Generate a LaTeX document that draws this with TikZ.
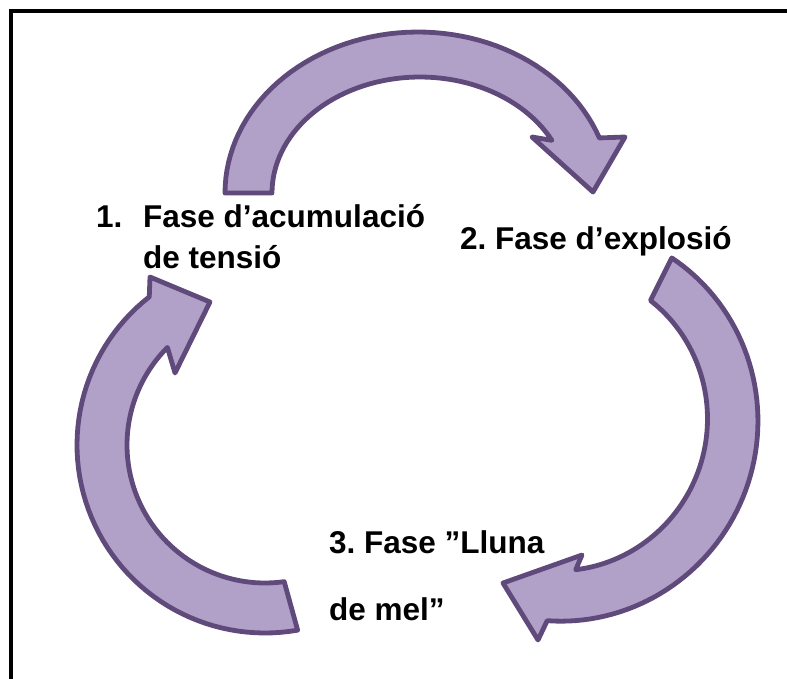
\documentclass[tikz,border=0pt]{standalone}
\usepackage{fontspec}
\setmainfont{Liberation Sans}
\frenchspacing
\definecolor{arrfill}{HTML}{B1A0C7}
\definecolor{arrline}{HTML}{604A7B}
\tikzset{
  cyclearrow/.style={fill=arrfill, draw=arrline, line width=4.8pt, line join=round},
  lbl/.style={anchor=base west, inner sep=0pt, font=\fontsize{31.5}{38}\selectfont\bfseries}
}
\begin{document}
\begin{tikzpicture}[x=1pt,y=-1pt]
\useasboundingbox (0,0) rectangle (787,678);
\clip (0,0) rectangle (787,678);
\fill[white] (0,0) rectangle (787,678);
% frame (only top and left edges visible)
\draw[line width=4.5pt] (11,700) -- (11,11) -- (800,11);

% arrow 1 (top)
\draw[cyclearrow]
  plot[domain=180:340, samples=60] ({418+193*cos(\x)}, {193+161*sin(\x)})
  -- (625,137) -- (593,192) -- (532,137)
  -- plot[domain=333:180, samples=60] ({420+148*cos(\x)}, {193+116*sin(\x)})
  -- cycle;

% arrow 2 (right)
\draw[cyclearrow]
  plot[domain=-50:88, samples=70] ({540+(219-0.00286*(\x-20)^2)*cos(\x)}, {415+(219-0.00286*(\x-20)^2)*sin(\x)})
  -- (538,640) -- (503,583) -- (582,555)
  -- plot[domain=77:-46, samples=70] ({540+(168-0.0024*(\x-15)^2)*cos(\x)}, {415+(168-0.0024*(\x-15)^2)*sin(\x)})
  -- cycle;

% arrow 3 (left)
\draw[cyclearrow]
  plot[domain=80:232, samples=60] ({265+188*cos(\x)}, {445+188*sin(\x)})
  -- (150,277) -- (210,302) -- (175,373)
  -- plot[domain=225:82, samples=60] ({265+138*cos(\x)}, {445+138*sin(\x)})
  -- cycle;

% labels
\node[lbl] (t1n) at (96,227) {1.};
\node[lbl] (t1a) at (143,227) {Fase d’acumulació};
\node[lbl] (t1b) at (143,268) {de tensió};
\node[lbl] (t2) at (460,249) {2. Fase d’explosió};
\node[lbl] (t3a) at (329,553) {3. Fase ”Lluna};
\node[lbl] (t3b) at (329,620) {de mel”};
\end{tikzpicture}
\end{document}
